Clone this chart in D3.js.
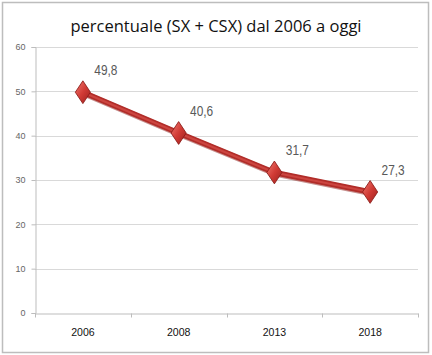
<!DOCTYPE html>
<html><head><meta charset="utf-8">
<script src="https://cdn.jsdelivr.net/npm/d3@7/dist/d3.min.js"></script>
<style>body{margin:0;background:#fff}svg{display:block}</style>
</head><body>
<script>
const years = ["2006","2008","2013","2018"];
const values = [49.8, 40.6, 31.7, 27.3];
const labels = ["49,8","40,6","31,7","27,3"];
const yTicks = [0,10,20,30,40,50,60];
const title = "percentuale (SX + CSX) dal 2006 a oggi";

const W=432,H=355;
const svg=d3.select("body").append("svg").attr("width",W).attr("height",H);
const defs=svg.append("defs");
const g1=defs.append("linearGradient").attr("id","mk").attr("x1","0").attr("y1","0").attr("x2","1").attr("y2","1");
g1.append("stop").attr("offset","0").attr("stop-color","#ef7a72");
g1.append("stop").attr("offset","0.5").attr("stop-color","#d13b35");
g1.append("stop").attr("offset","1").attr("stop-color","#9c1f1c");

svg.append("rect").attr("x",2.5).attr("y",2.5).attr("width",426).attr("height",350)
  .attr("fill","#fff").attr("stroke","#bdbdbd").attr("stroke-width",1.5);

svg.append("text").attr("x",216).attr("y",32).attr("text-anchor","middle")
  .attr("font-family","Open Sans, sans-serif").attr("font-weight",500).attr("font-size",16.5)
  .attr("fill","#111").text(title);

const L=35,R=418,T=47,B=313;
const x=d3.scaleBand().domain(years).range([L,R]);
const y=d3.scaleLinear().domain([0,60]).range([B,T]);

svg.append("g").selectAll("line").data(yTicks.filter(d=>d>0)).join("line")
  .attr("x1",L).attr("x2",R).attr("y1",d=>Math.round(y(d))+0.5).attr("y2",d=>Math.round(y(d))+0.5)
  .attr("stroke","#d9d9d9").attr("stroke-width",1);

const ya=svg.append("g").attr("transform",`translate(${L+0.5},0)`)
  .call(d3.axisLeft(y).tickValues(yTicks).tickSize(4).tickPadding(6));
ya.select(".domain").attr("stroke","#bdbdbd");
ya.selectAll(".tick line").attr("stroke","#bdbdbd");
ya.selectAll(".tick text").attr("font-family","Liberation Sans, Arial, sans-serif").attr("font-size",9).attr("fill","#666");

const xa=svg.append("g").attr("transform",`translate(0,${B+0.5})`)
  .call(d3.axisBottom(x).tickSize(0).tickPadding(14));
xa.select(".domain").attr("stroke","#bdbdbd");
xa.selectAll(".tick text").attr("font-family","Liberation Sans, Arial, sans-serif").attr("font-size",11.5).attr("fill","#111")
  .attr("transform","scale(0.92,1)").attr("x",function(){return 0;});
const edges=years.map(d=>x(d)).concat([x(years[years.length-1])+x.bandwidth()]);
xa.append("g").selectAll("line").data(edges).join("line")
  .attr("x1",d=>Math.round(d)+0.5).attr("x2",d=>Math.round(d)+0.5).attr("y1",0).attr("y2",4)
  .attr("stroke","#bdbdbd");

const cx=(d,i)=>x(years[i])+x.bandwidth()/2;
const line=d3.line().x((d,i)=>cx(d,i)).y(d=>y(d));
svg.append("path").datum(values).attr("d",line).attr("fill","none")
  .attr("stroke","#8e1f1c").attr("stroke-width",6).attr("stroke-linejoin","round").attr("transform","translate(0.5,1)").attr("opacity",0.5);
svg.append("path").datum(values).attr("d",line).attr("fill","none")
  .attr("stroke","#b12d29").attr("stroke-width",5.5).attr("stroke-linejoin","round");
svg.append("path").datum(values).attr("d",line).attr("fill","none")
  .attr("stroke","#cc4540").attr("stroke-width",2.2).attr("stroke-linejoin","round");

const sym=d3.symbol().type(d3.symbolDiamond).size(150);
svg.append("g").selectAll("path").data(values).join("path")
  .attr("d",sym).attr("transform",(d,i)=>`translate(${cx(d,i)},${y(d)}) scale(1.15,1)`)
  .attr("fill","url(#mk)").attr("stroke","#8a1c19").attr("stroke-width",0.8);

svg.append("g").selectAll("text").data(values).join("text")
  .attr("transform",(d,i)=>`translate(${cx(d,i)+23},${y(d)-17}) scale(0.85,1)`)
  .attr("text-anchor","middle")
  .attr("font-family","Liberation Sans, Arial, sans-serif").attr("font-size",14)
  .attr("fill","#595959").text((d,i)=>labels[i]);
</script>
</body></html>
